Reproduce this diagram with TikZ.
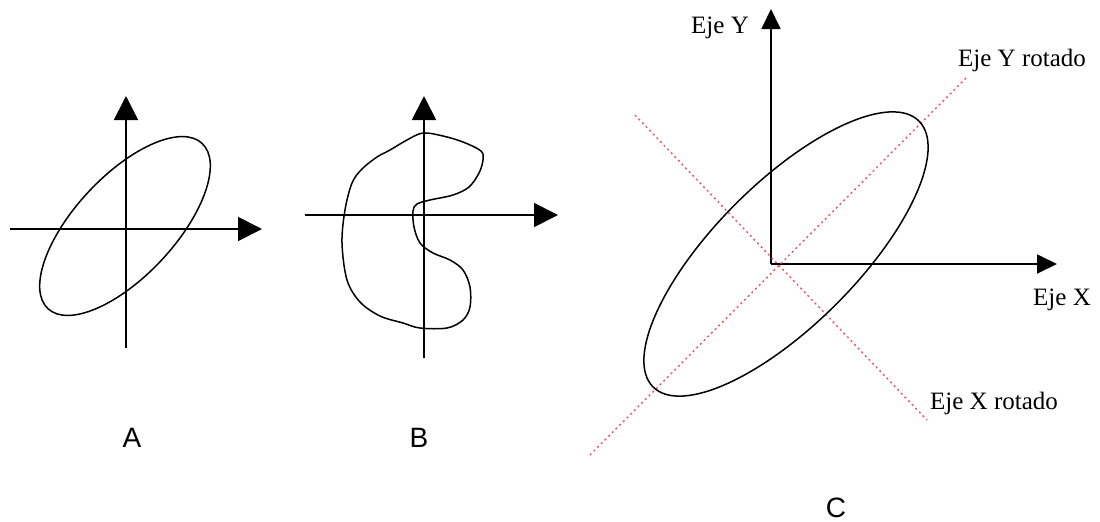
\documentclass[tikz,border=0pt]{standalone}
\usepackage{fontspec}
\setmainfont{Liberation Serif}
\newfontfamily\labelfont{Liberation Sans}
\usetikzlibrary{arrows.meta}
\definecolor{rotred}{RGB}{232,86,96}
\tikzset{
  axisAB/.style={line width=0.9pt, -{Triangle[length=12pt,width=12pt]}},
  axisC/.style={line width=0.9pt, -{Triangle[length=10pt,width=9.5pt]}},
  plainaxis/.style={line width=0.9pt},
  curve/.style={line width=0.75pt},
  rotaxis/.style={rotred, line width=0.7pt, dash pattern=on 1pt off 1.6pt},
  eje/.style={font=\fontsize{12.5}{14}\selectfont, inner sep=0pt},
  panel/.style={font=\labelfont\fontsize{14}{16}\selectfont, inner sep=0pt}
}
\begin{document}
\begin{tikzpicture}[x=0.5pt,y=-0.5pt]
\useasboundingbox (0,0) rectangle (1100,521);

% ---------- Panel A ----------
\coordinate (aL) at (10,229);
\coordinate (aR) at (262,229);
\coordinate (aB) at (126,348);
\coordinate (aT) at (126,96);
\draw[axisAB] (aL) -- (aR);
\draw[axisAB] (aB) -- (aT);
\coordinate (aC) at (125,226);
\draw[curve, rotate around={47:(aC)}] (aC) ellipse [x radius=113, y radius=50];
\node[panel] (labA) at (132,438) {A};

% ---------- Panel B ----------
\coordinate (bL) at (305,215);
\coordinate (bR) at (558,215);
\coordinate (bB) at (424,358);
\coordinate (bT) at (424,96);
\draw[axisAB] (bL) -- (bR);
\draw[axisAB] (bB) -- (bT);
\draw[curve] plot[smooth cycle, tension=0.55] coordinates {
  (423,133) (443,136) (463,142) (481,151) (483,160) (479,173) (469,187)
  (453,195) (430,200) (417,204) (413,211) (414,227) (420,243) (433,253)
  (450,260) (463,270) (470,287) (470,307) (463,320) (447,328) (420,328)
  (403,323) (380,316) (360,302) (347,280) (342,243) (345,210) (352,183)
  (362,169) (377,157) (390,150) (407,140)};
\node[panel] (labB) at (419,438) {B};

% ---------- Panel C ----------
\coordinate (cO) at (771,264);
\coordinate (cX) at (1057,264);
\coordinate (cY) at (771,9);
\draw[axisC] (cO) -- (cX);
\draw[axisC] (cO) -- (cY);
\coordinate (yr1) at (590,455);
\coordinate (yr2) at (967,77);
\coordinate (xr1) at (635,115);
\coordinate (xr2) at (927,420);
\draw[rotaxis] (yr1) -- (yr2);
\draw[rotaxis] (xr1) -- (xr2);
\coordinate (cC) at (786,254);
\draw[curve, rotate around={45:(cC)}] (cC) ellipse [x radius=188, y radius=71];
\node[eje] (ejeY) at (720,28) {Eje Y};
\node[eje] (ejeYr) at (1022,60) {Eje Y rotado};
\node[eje] (ejeX) at (1062,300) {Eje X};
\node[eje] (ejeXr) at (994,403) {Eje X rotado};
\node[panel] (labC) at (836,508) {C};
\end{tikzpicture}
\end{document}
